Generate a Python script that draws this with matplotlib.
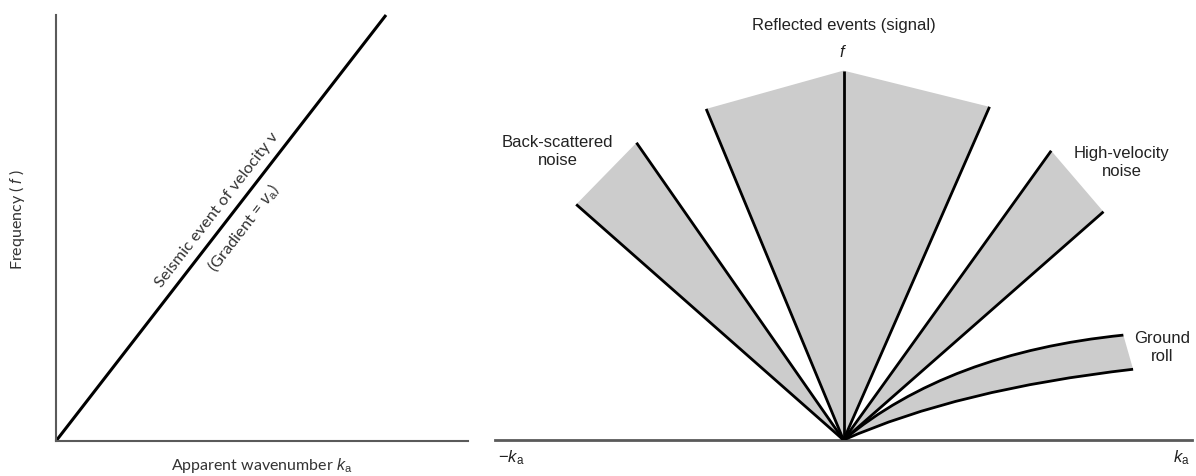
import numpy as np
import matplotlib.pyplot as plt
from matplotlib.path import Path
from matplotlib.patches import PathPatch, Polygon

# Left panel: one seismic event through the origin (k_a, f), normalised units
event_k = [0.0, 0.801]
event_f = [0.0, 1.0]

# Right panel: fan of f-k wedges, endpoints (k, f)
back_outer = (-0.767, 0.676)
back_inner = (-0.594, 0.853)
refl_left = (-0.394, 0.950)
refl_centre = (0.0, 1.060)
refl_right = (0.419, 0.956)
high_inner = (0.596, 0.830)
high_outer = (0.746, 0.655)

# ground roll: quadratic curves (control point, end point)
ground_upper = [(0.30, 0.25), (0.803, 0.301)]
ground_lower = [(0.33, 0.146), (0.831, 0.203)]

FILL = '#cccccc'
AXIS = '#5a5a5a'

plt.rcParams['mathtext.fontset'] = 'custom'
plt.rcParams['mathtext.it'] = 'Liberation Sans:italic'
plt.rcParams['mathtext.rm'] = 'Liberation Sans'

W, H = 1196, 476
fig = plt.figure(figsize=(W / 100, H / 100), dpi=100)

# ---- left panel ----
ax1 = fig.add_axes([56 / W, (H - 441) / H, (468 - 56) / W, (441 - 15) / H])
ax1.set_xlim(0, 1)
ax1.set_ylim(0, 1)
for s in ['top', 'right']:
    ax1.spines[s].set_visible(False)
for s in ['left', 'bottom']:
    ax1.spines[s].set_color(AXIS)
    ax1.spines[s].set_linewidth(1.5)
ax1.set_xticks([])
ax1.set_yticks([])
ax1.plot(event_k, event_f, color='black', lw=2.2, solid_capstyle='butt', clip_on=False)

lfont = dict(family=['Lato', 'DejaVu Sans'], color='#333333')
ax1.set_xlabel('Apparent wavenumber $k_\\mathrm{a}$', fontsize=11.5, labelpad=11, **lfont)
ax1.set_ylabel('Frequency ( $f$ )', fontsize=11.5, **lfont)
ax1.yaxis.set_label_coords(-0.07, 0.52)

# text along the line
ang = np.degrees(np.arctan2(426, 330))
ax1.text(0.392, 0.542, 'Seismic event of velocity v', rotation=ang, rotation_mode='anchor',
         ha='center', va='center', fontsize=11.8, **lfont)
ax1.text(0.456, 0.50, '(Gradient = $v_\\mathrm{a}$)', rotation=ang, rotation_mode='anchor',
         ha='center', va='center', fontsize=11.8, **lfont)

# ---- right panel ----
ax2 = fig.add_axes([495 / W, (H - 440) / H, (1192 - 495) / W, 440 / H])
ax2.set_xlim(-1, 1)
ax2.set_ylim(0, 440 / 348.5)
for s in ['top', 'right', 'left']:
    ax2.spines[s].set_visible(False)
ax2.spines['bottom'].set_color(AXIS)
ax2.spines['bottom'].set_linewidth(2)
ax2.set_xticks([])
ax2.set_yticks([])

o = (0.0, 0.0)
wedges = [(back_outer, back_inner), (refl_left, refl_centre, refl_right), (high_inner, high_outer)]
for w in wedges:
    ax2.add_patch(Polygon([o, *w], closed=True, fc=FILL, ec='none', zorder=1))
    for p in w:
        ax2.plot([0, p[0]], [0, p[1]], color='black', lw=2, solid_capstyle='butt', zorder=3)

# ground roll band
(cu, eu), (cl, el) = ground_upper, ground_lower
band = Path([o, cu, eu, el, cl, o],
            [Path.MOVETO, Path.CURVE3, Path.CURVE3, Path.LINETO, Path.CURVE3, Path.CURVE3])
ax2.add_patch(PathPatch(band, fc=FILL, ec='none', zorder=1))
for c, e in [(cu, eu), (cl, el)]:
    ax2.add_patch(PathPatch(Path([o, c, e], [Path.MOVETO, Path.CURVE3, Path.CURVE3]),
                            fc='none', ec='black', lw=2, zorder=3))

rfont = dict(family=['Liberation Sans', 'DejaVu Sans'], color='#222222', fontsize=12)
ax2.text(0.0, 1.188, 'Reflected events (signal)', ha='center', va='center', **rfont)
ax2.text(0.0, 1.113, '$f$', ha='center', va='center', **rfont)
ax2.text(-0.821, 0.828, 'Back-scattered\nnoise', ha='center', va='center', linespacing=1.25, **rfont)
ax2.text(0.798, 0.796, 'High-velocity\nnoise', ha='center', va='center', linespacing=1.25, **rfont)
ax2.text(0.915, 0.264, 'Ground\nroll', ha='center', va='center', linespacing=1.25, **rfont)
ax2.text(-0.99, -0.05, '$-k_\\mathrm{a}$', ha='left', va='center', **rfont)
ax2.text(0.995, -0.05, '$k_\\mathrm{a}$', ha='right', va='center', **rfont)

fig.savefig('out.png', dpi=100)
